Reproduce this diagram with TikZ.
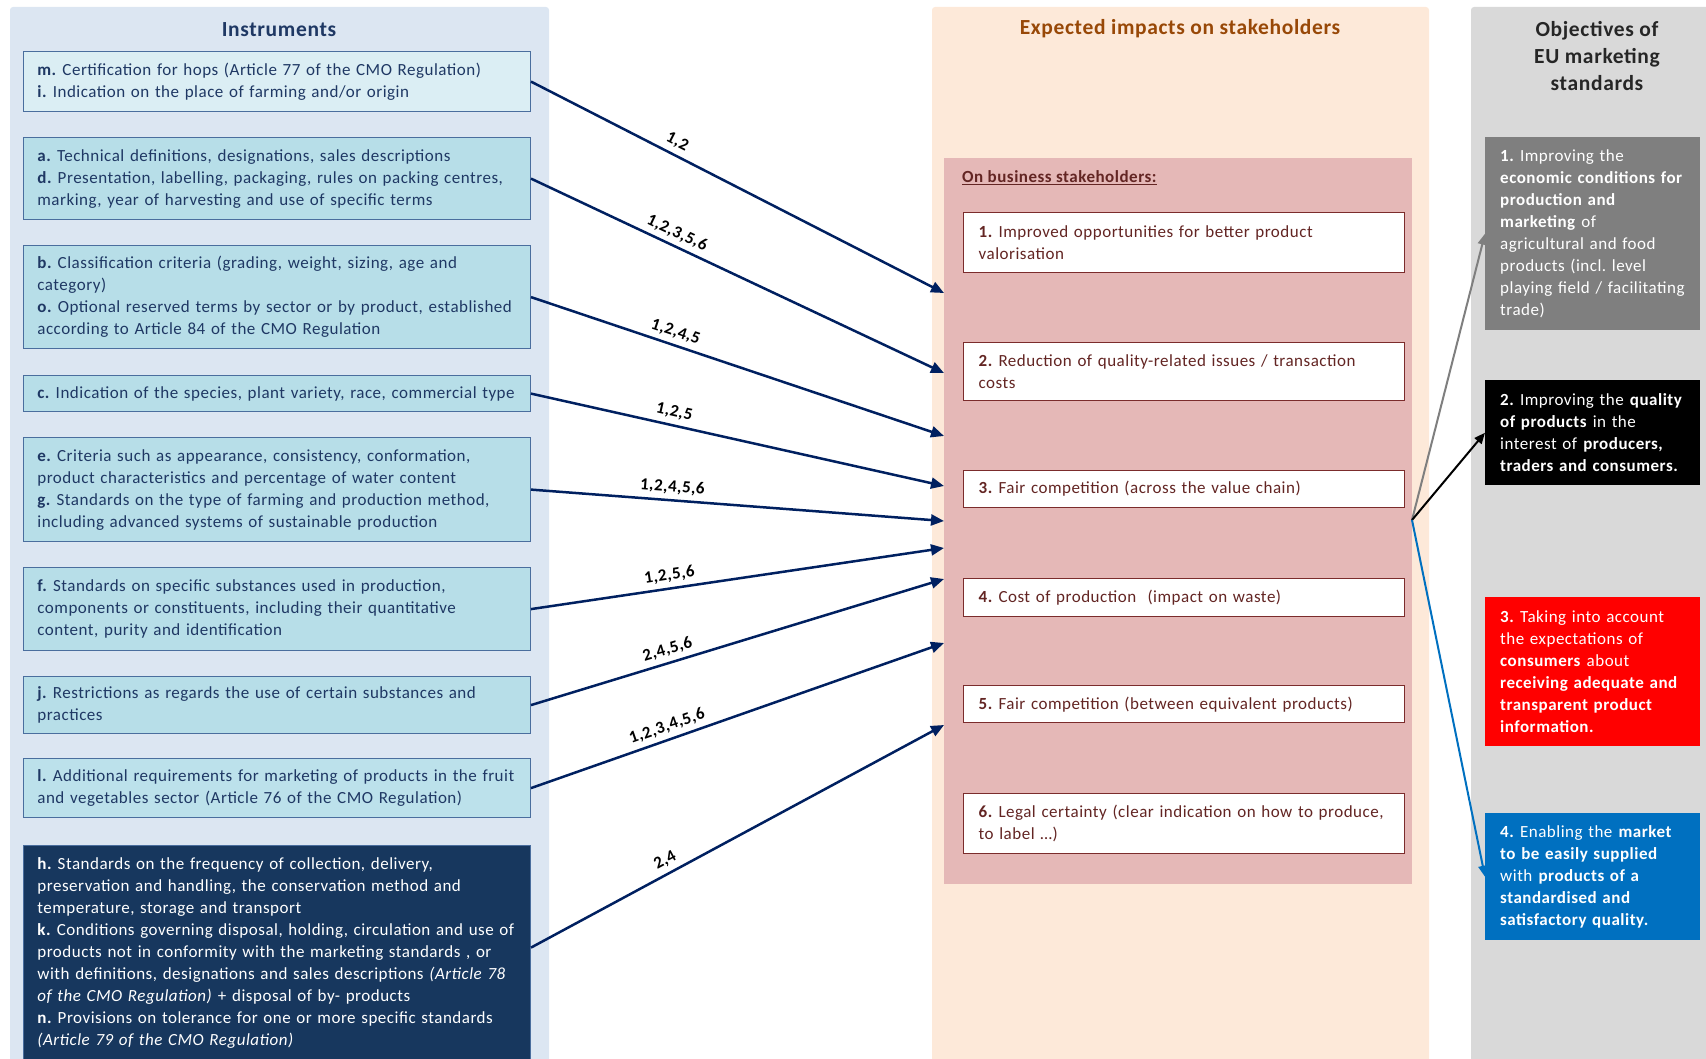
\documentclass[tikz,border=0pt]{standalone}
\usepackage{fontspec}
\setmainfont{Carlito}[LetterSpace=3]
\usetikzlibrary{arrows.meta}
\frenchspacing

% palette
\definecolor{panelInstr}{HTML}{DCE6F2}
\definecolor{panelImpact}{HTML}{FDE9D9}
\definecolor{panelObj}{HTML}{D9D9D9}
\definecolor{pinkFill}{HTML}{E5B8B7}
\definecolor{instrLight}{HTML}{DBEEF4}
\definecolor{instrFill}{HTML}{B7DEE8}
\definecolor{instrFruit}{HTML}{BCE1EB}
\definecolor{instrDark}{HTML}{17375E}
\definecolor{instrLine}{HTML}{4A6E9E}
\definecolor{navyText}{HTML}{1F3864}
\definecolor{linkBlue}{HTML}{002060}
\definecolor{impLine}{HTML}{7B2C2C}
\definecolor{impText}{HTML}{632523}
\definecolor{impTitle}{HTML}{984807}
\definecolor{objTitle}{HTML}{262626}
\definecolor{objGray}{HTML}{7F7F7F}
\definecolor{objRed}{HTML}{FF0000}
\definecolor{objBlue}{HTML}{0070C0}

\newcommand\myBody{\fontsize{17}{22}\selectfont}
\newcommand\myTitle{\fontsize{21.5}{27}\selectfont\bfseries}

\begin{document}
\begin{tikzpicture}[x=1pt,y=-1pt,
  instr/.style={draw=instrLine, line width=1.2pt, fill=instrFill, anchor=north west,
    text width=479pt, inner xsep=14pt, inner ysep=0pt, align=left,
    font=\myBody, text=navyText},
  impact/.style={draw=impLine, line width=1.3pt, fill=white, anchor=north west,
    text width=411pt, inner xsep=15pt, inner ysep=0pt, align=left,
    font=\myBody, text=impText},
  objective/.style={anchor=north west, text width=185pt, inner xsep=15pt,
    inner ysep=0pt, align=left, font=\myBody, text=white},
  link/.style={draw=linkBlue, line width=2.5pt, -{Triangle[length=13pt,width=11pt]}},
  lab/.style={sloped, above=4pt, pos=0.34, font=\fontsize{17}{20}\selectfont\bfseries,
    text=black, inner sep=1pt},
  goal/.style={line width=2pt, -{Triangle[length=11pt,width=9pt]}}
]
\useasboundingbox (0,0) rectangle (1706,1059);
\clip (0,0) rectangle (1706,1059);

% column backgrounds
\fill[panelInstr, rounded corners=3pt] (10,7) rectangle (549,1075);
\fill[panelImpact, rounded corners=3pt] (932,7) rectangle (1429,1075);
\fill[panelObj, rounded corners=3pt] (1471,7) rectangle (1720,1075);
\fill[pinkFill] (944,158) rectangle (1412,884);

% column headings
\node[font=\myTitle, text=navyText] (tInstr) at (279,30) {Instruments};
\node[font=\myTitle, text=impTitle] (tImpact) at (1180,29) {Expected impacts on stakeholders};
\node[font=\myTitle, text=objTitle, align=center] (tObj) at (1597,56)
  {Objectives of\\EU marketing\\standards};

% instruments
\node[instr, fill=instrLight, minimum height=60pt] (m) at (22.8,51)
  {\textbf{m.} Certification for hops (Article 77 of the CMO Regulation)\\
   \textbf{i.} Indication on the place of farming and/or origin};
\node[instr, minimum height=82pt] (ad) at (22.8,137)
  {\textbf{a.} Technical definitions, designations, sales descriptions\\
   \textbf{d.} Presentation, labelling, packaging, rules on packing centres,\\
   marking, year of harvesting and use of specific terms};
\node[instr, minimum height=103pt] (bo) at (22.8,245)
  {\textbf{b.} Classification criteria (grading, weight, sizing, age and\\
   category)\\
   \textbf{o.} Optional reserved terms by sector or by product, established\\
   according to Article 84 of the CMO Regulation};
\node[instr, minimum height=36pt] (c) at (22.8,375)
  {\textbf{c.} Indication of the species, plant variety, race, commercial type};
\node[instr, minimum height=104pt] (eg) at (22.8,437)
  {\textbf{e.} Criteria such as appearance, consistency, conformation,\\
   product characteristics and percentage of water content\\
   \textbf{g.} Standards on the type of farming and production method,\\
   including advanced systems of sustainable production};
\node[instr, minimum height=83pt] (f) at (22.8,567)
  {\textbf{f.} Standards on specific substances used in production,\\
   components or constituents, including their quantitative\\
   content, purity and identification};
\node[instr, minimum height=57pt] (j) at (22.8,676)
  {\textbf{j.} Restrictions as regards the use of certain substances and\\
   practices};
\node[instr, fill=instrFruit, minimum height=59pt] (l) at (22.8,758)
  {\textbf{l.} Additional requirements for marketing of products in the fruit\\
   and vegetables sector (Article 76 of the CMO Regulation)};
\node[instr, fill=instrDark, text=white, minimum height=214pt] (hkn) at (22.8,845)
  {\textbf{h.} Standards on the frequency of collection, delivery,\\
   preservation and handling, the conservation method and\\
   temperature, storage and transport\\
   \textbf{k.} Conditions governing disposal, holding, circulation and use of\\
   products not in conformity with the marketing standards , or\\
   with definitions, designations and sales descriptions \textit{(Article 78}\\
   \textit{of the CMO Regulation)} + disposal of by- products\\
   \textbf{n.} Provisions on tolerance for one or more specific standards\\
   \textit{(Article 79 of the CMO Regulation)}};

% impacts on business stakeholders
\node[anchor=west, font=\myBody\bfseries, text=impText, inner xsep=0pt] (tBus) at (962,178)
  {\underline{On business stakeholders:}};
\node[impact, minimum height=60pt] (i1) at (963,212)
  {\textbf{1.} Improved opportunities for better product\\valorisation};
\node[impact, minimum height=58pt] (i2) at (963,342)
  {\textbf{2.} Reduction of quality-related issues / transaction\\costs};
\node[impact, minimum height=37pt] (i3) at (963,470)
  {\textbf{3.} Fair competition (across the value chain)};
\node[impact, minimum height=38pt] (i4) at (963,578)
  {\textbf{4.} Cost of production\ \ (impact on waste)};
\node[impact, minimum height=37pt] (i5) at (963,685)
  {\textbf{5.} Fair competition (between equivalent products)};
\node[impact, minimum height=60pt] (i6) at (963,793)
  {\textbf{6.} Legal certainty (clear indication on how to produce,\\to label \dots)};

% objectives
\node[objective, fill=objGray, minimum height=193pt] (o1) at (1485,137)
  {\textbf{1.} Improving the\\
   \textbf{economic conditions for}\\
   \textbf{production and}\\
   \textbf{marketing} of\\
   agricultural and food\\
   products (incl. level\\
   playing field / facilitating\\
   trade)};
\node[objective, fill=black, minimum height=105pt] (o2) at (1485,380)
  {\textbf{2.} Improving the \textbf{quality}\\
   \textbf{of products} in the\\
   interest of \textbf{producers,}\\
   \textbf{traders and consumers.}};
\node[objective, fill=objRed, minimum height=149pt] (o3) at (1485,597)
  {\textbf{3.} Taking into account\\
   the expectations of\\
   \textbf{consumers} about\\
   \textbf{receiving adequate and}\\
   \textbf{transparent product}\\
   \textbf{information.}};
\node[objective, fill=objBlue, minimum height=127pt] (o4) at (1485,813)
  {\textbf{4.} Enabling the \textbf{market}\\
   \textbf{to be easily supplied}\\
   with \textbf{products of a}\\
   \textbf{standardised and}\\
   \textbf{satisfactory quality.}};

% entry points on the stakeholder block
\coordinate (e1) at (944,293);
\coordinate (e2) at (944,373);
\coordinate (e3) at (944,436);
\coordinate (e4) at (944,486);
\coordinate (e5) at (944,521);
\coordinate (e6) at (944,548);
\coordinate (e7) at (944,579);
\coordinate (e8) at (944,643);
\coordinate (e9) at (944,725);
\coordinate (hub) at (1412,520);

% instrument -> impact links
\draw[link] (m.east) -- node[lab] {1,2} (e1);
\draw[link] (ad.east) -- node[lab] {1,2,3,5,6} (e2);
\draw[link] (bo.east) -- node[lab] {1,2,4,5} (e3);
\draw[link] (c.east) -- node[lab] {1,2,5} (e4);
\draw[link] (eg.east) -- node[lab] {1,2,4,5,6} (e5);
\draw[link] (f.east) -- node[lab] {1,2,5,6} (e6);
\draw[link] (j.east) -- node[lab] {2,4,5,6} (e7);
\draw[link] (l.east) -- node[lab] {1,2,3,4,5,6} (e8);
\draw[link] ([yshift=5pt]hkn.east) -- node[lab] {2,4} (e9);

% impact -> objective links
\draw[goal, draw=objGray] (hub) -- (o1.west);
\draw[goal, draw=black] (hub) -- (o2.west);
\draw[goal, draw=objBlue] (hub) -- (o4.west);
\end{tikzpicture}
\end{document}
